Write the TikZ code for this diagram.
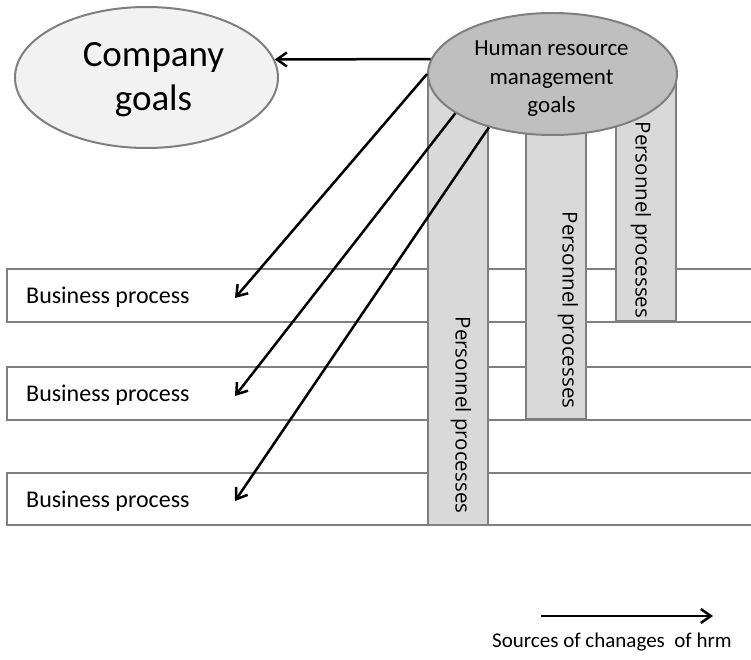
\documentclass[tikz,border=0pt]{standalone}
\usepackage{fontspec}
\setmainfont{Carlito}
\newfontfamily\ppfont{Open Sans}
\usetikzlibrary{arrows.meta,shapes.geometric}
\definecolor{edgegray}{HTML}{7F7F7F}
\definecolor{colfill}{HTML}{D9D9D9}
\definecolor{hrmfill}{HTML}{BFBFBF}
\definecolor{cgfill}{HTML}{F2F2F2}
\begin{document}
\begin{tikzpicture}[x=1pt,y=-1pt,
  boxline/.style={draw=edgegray,line width=2pt,fill=white},
  colbar/.style={draw=edgegray,line width=2pt,fill=colfill},
  arr/.style={draw=black,line width=2.5pt,-{Straight Barb[length=10pt,width=14pt,line width=2.5pt]}},
  bptext/.style={anchor=base west,font=\fontsize{24}{28}\selectfont,inner sep=0pt},
  pptext/.style={rotate=-90,font=\ppfont\fontsize{20.5}{24}\selectfont,inner sep=0pt},
  goalell/.style={ellipse,draw=edgegray,line width=2pt,inner sep=0pt}
]
\useasboundingbox (0,0) rectangle (751,660);
% business process boxes
\foreach \t/\b in {269/322,367/420,473/525}{
  \fill[white] (7,\t) rectangle (752,\b);
  \draw[boxline] (753,\t) -- (7,\t) -- (7,\b) -- (753,\b);
}
% personnel process columns
\draw[colbar] (428,74) rectangle (488,525);
\draw[colbar] (526,100) rectangle (586,419);
\draw[colbar] (616,74) rectangle (676,321);
% ellipses
\node[goalell,fill=hrmfill,minimum width=249pt,minimum height=122pt] (hrm) at (552.5,74) {};
\node[goalell,fill=cgfill,minimum width=263pt,minimum height=141pt] (cg) at (146.5,77.5) {};
\node[align=center,font=\fontsize{37}{44}\selectfont,inner sep=0pt] (cgt) at (153.5,80) {Company\\goals};
\node[align=center,font=\fontsize{23}{28.5}\selectfont,inner sep=0pt] (hrmt) at (551.5,79) {Human resource\\management\\goals};
% texts
\node[bptext] (bp1) at (26,303) {Business process};
\node[bptext] (bp2) at (26,401) {Business process};
\node[bptext] (bp3) at (26,507) {Business process};
\node[pptext] (pp1) at (461,415) {Personnel processes};
\node[pptext] (pp2) at (568,310) {Personnel processes};
\node[pptext] (pp3) at (641,220) {Personnel processes};
% arrow targets
\coordinate (t1) at (235,298);
\coordinate (t2) at (235,396);
\coordinate (t3) at (235,501);
\draw[arr] (hrm.173) -- (cg.8);
\draw[arr] (hrm.west) -- (t1);
\draw[arr] (hrm.202) -- (t2);
\draw[arr] (hrm.220) -- (t3);
% legend
\coordinate (ls) at (541,616);
\coordinate (le) at (713,616);
\draw[arr] (ls) -- (le);
\node[anchor=base,font=\fontsize{21}{25}\selectfont,inner sep=0pt] (leg) at (612,647) {Sources of chanages~ of hrm};
\end{tikzpicture}
\end{document}
